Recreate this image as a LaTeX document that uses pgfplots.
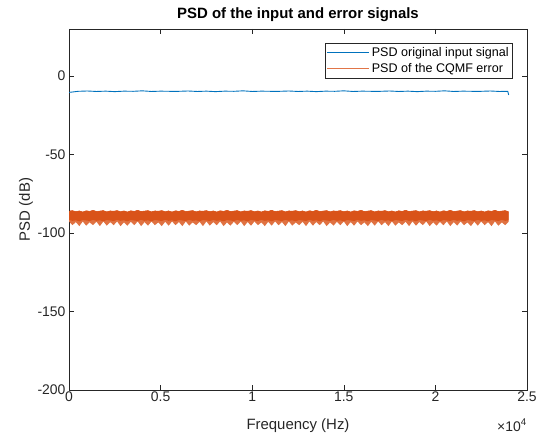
\documentclass[border=0pt]{standalone}
\usepackage{pgfplots}
\pgfplotsset{compat=1.18}
\usepackage{pgfplotstable}
\usepgfplotslibrary{fillbetween}
\usepackage{fontspec}
\setmainfont{Liberation Sans}
\definecolor{mblue}{RGB}{0,114,189}
\definecolor{morange}{RGB}{217,83,25}
\definecolor{axgray}{RGB}{38,38,38}

\pgfplotstableread{
x up core lo
0 -86.1 -91.6 -92.6
187.5 -85.7 -92.2 -95.0
375 -86.4 -91.9 -93.0
562.5 -85.9 -92.5 -95.6
750 -86.6 -91.7 -92.6
937.5 -85.8 -92.0 -95.3
1125 -86.2 -92.3 -93.2
1312.5 -85.5 -91.6 -95.0
1500 -86.3 -92.2 -92.8
1687.5 -86.0 -91.9 -95.6
1875 -85.7 -92.5 -92.6
2062.5 -86.5 -91.7 -95.3
2250 -85.9 -92.0 -93.0
2437.5 -86.1 -92.3 -95.0
2625 -85.7 -91.6 -92.6
2812.5 -86.4 -92.2 -95.6
3000 -85.9 -91.9 -93.2
3187.5 -86.6 -92.5 -95.3
3375 -85.8 -91.7 -92.8
3562.5 -86.2 -92.0 -95.0
3750 -85.5 -92.3 -92.6
3937.5 -86.3 -91.6 -95.6
4125 -86.0 -92.2 -93.0
4312.5 -85.7 -91.9 -95.3
4500 -86.5 -92.5 -92.6
4687.5 -85.9 -91.7 -95.0
4875 -86.1 -92.0 -93.2
5062.5 -85.7 -92.3 -95.6
5250 -86.4 -91.6 -92.8
5437.5 -85.9 -92.2 -95.3
5625 -86.6 -91.9 -92.6
5812.5 -85.8 -92.5 -95.0
6000 -86.2 -91.7 -93.0
6187.5 -85.5 -92.0 -95.6
6375 -86.3 -92.3 -92.6
6562.5 -86.0 -91.6 -95.3
6750 -85.7 -92.2 -93.2
6937.5 -86.5 -91.9 -95.0
7125 -85.9 -92.5 -92.8
7312.5 -86.1 -91.7 -95.6
7500 -85.7 -92.0 -92.6
7687.5 -86.4 -92.3 -95.3
7875 -85.9 -91.6 -93.0
8062.5 -86.6 -92.2 -95.0
8250 -85.8 -91.9 -92.6
8437.5 -86.2 -92.5 -95.6
8625 -85.5 -91.7 -93.2
8812.5 -86.3 -92.0 -95.3
9000 -86.0 -92.3 -92.8
9187.5 -85.7 -91.6 -95.0
9375 -86.5 -92.2 -92.6
9562.5 -85.9 -91.9 -95.6
9750 -86.1 -92.5 -93.0
9937.5 -85.7 -91.7 -95.3
10125 -86.4 -92.0 -92.6
10312.5 -85.9 -92.3 -95.0
10500 -86.6 -91.6 -93.2
10687.5 -85.8 -92.2 -95.6
10875 -86.2 -91.9 -92.8
11062.5 -85.5 -92.5 -95.3
11250 -86.3 -91.7 -92.6
11437.5 -86.0 -92.0 -95.0
11625 -85.7 -92.3 -93.0
11812.5 -86.5 -91.6 -95.6
12000 -85.9 -92.2 -92.6
12187.5 -86.1 -91.9 -95.3
12375 -85.7 -92.5 -93.2
12562.5 -86.4 -91.7 -95.0
12750 -85.9 -92.0 -92.8
12937.5 -86.6 -92.3 -95.6
13125 -85.8 -91.6 -92.6
13312.5 -86.2 -92.2 -95.3
13500 -85.5 -91.9 -93.0
13687.5 -86.3 -92.5 -95.0
13875 -86.0 -91.7 -92.6
14062.5 -85.7 -92.0 -95.6
14250 -86.5 -92.3 -93.2
14437.5 -85.9 -91.6 -95.3
14625 -86.1 -92.2 -92.8
14812.5 -85.7 -91.9 -95.0
15000 -86.4 -92.5 -92.6
15187.5 -85.9 -91.7 -95.6
15375 -86.6 -92.0 -93.0
15562.5 -85.8 -92.3 -95.3
15750 -86.2 -91.6 -92.6
15937.5 -85.5 -92.2 -95.0
16125 -86.3 -91.9 -93.2
16312.5 -86.0 -92.5 -95.6
16500 -85.7 -91.7 -92.8
16687.5 -86.5 -92.0 -95.3
16875 -85.9 -92.3 -92.6
17062.5 -86.1 -91.6 -95.0
17250 -85.7 -92.2 -93.0
17437.5 -86.4 -91.9 -95.6
17625 -85.9 -92.5 -92.6
17812.5 -86.6 -91.7 -95.3
18000 -85.8 -92.0 -93.2
18187.5 -86.2 -92.3 -95.0
18375 -85.5 -91.6 -92.8
18562.5 -86.3 -92.2 -95.6
18750 -86.0 -91.9 -92.6
18937.5 -85.7 -92.5 -95.3
19125 -86.5 -91.7 -93.0
19312.5 -85.9 -92.0 -95.0
19500 -86.1 -92.3 -92.6
19687.5 -85.7 -91.6 -95.6
19875 -86.4 -92.2 -93.2
20062.5 -85.9 -91.9 -95.3
20250 -86.6 -92.5 -92.8
20437.5 -85.8 -91.7 -95.0
20625 -86.2 -92.0 -92.6
20812.5 -85.5 -92.3 -95.6
21000 -86.3 -91.6 -93.0
21187.5 -86.0 -92.2 -95.3
21375 -85.7 -91.9 -92.6
21562.5 -86.5 -92.5 -95.0
21750 -85.9 -91.7 -93.2
21937.5 -86.1 -92.0 -95.6
22125 -85.7 -92.3 -92.8
22312.5 -86.4 -91.6 -95.3
22500 -85.9 -92.2 -92.6
22687.5 -86.6 -91.9 -95.0
22875 -85.8 -92.5 -93.0
23062.5 -86.2 -91.7 -95.6
23250 -85.5 -92.0 -92.6
23437.5 -86.3 -92.3 -95.3
23625 -86.0 -91.6 -93.2
23812.5 -85.7 -92.2 -95.0
24000 -86.5 -91.9 -92.8
}\errtab

\pgfplotstableread{
x y
0 -10.4
500 -9.7
1000 -9.5
1500 -9.8
2000 -9.6
2500 -9.9
3000 -9.6
3500 -9.7
4000 -9.4
4500 -9.8
5000 -9.6
5500 -9.7
6000 -9.7
6500 -9.5
7000 -9.8
7500 -9.6
8000 -9.9
8500 -9.6
9000 -9.7
9500 -9.4
10000 -9.8
10500 -9.6
11000 -9.7
11500 -9.7
12000 -9.5
12500 -9.8
13000 -9.6
13500 -9.9
14000 -9.6
14500 -9.7
15000 -9.4
15500 -9.8
16000 -9.6
16500 -9.7
17000 -9.7
17500 -9.5
18000 -9.8
18500 -9.6
19000 -9.9
19500 -9.6
20000 -9.7
20500 -9.4
21000 -9.8
21500 -9.6
22000 -9.7
22500 -9.7
23000 -9.5
23500 -9.8
23950 -9.7
24000 -12.0
}\inptab

\begin{document}
\begin{tikzpicture}
\begin{axis}[
  scale only axis,
  width=458bp, height=361bp,
  clip mode=individual,
  xmin=0, xmax=25000, ymin=-200, ymax=30,
  xtick={0,5000,10000,15000,20000,25000},
  xticklabels={0,0.5,1,1.5,2,2.5},
  ytick={-200,-150,-100,-50,0},
  scaled x ticks=false,
  tick align=inside,
  major tick length=5bp,
  axis line style={axgray, line width=0.5pt},
  every tick/.style={axgray, line width=0.5pt},
  tick label style={font=\fontsize{14}{16}\selectfont, text=axgray},
  xticklabel style={yshift=1.5bp},
  /pgf/number format/assume math mode=true,
  xlabel={Frequency (Hz)},
  ylabel={PSD (dB)},
  label style={font=\fontsize{15}{17}\selectfont, text=axgray},
  xlabel style={at={(axis description cs:0.5,-0.1108)}, anchor=base},
  ylabel style={at={(axis description cs:-0.0852,0.5)}, anchor=base, rotate=0},
  title={\textbf{PSD of the input and error signals}},
  title style={at={(0.5,1)}, anchor=base, yshift=5bp, font=\fontsize{15}{17}\selectfont},
  legend style={at={(rel axis cs:0.969,0.961)}, anchor=north east,
    draw=axgray, font=\fontsize{12.6}{14}\selectfont,
    inner xsep=2bp, inner ysep=2bp, row sep=1.5bp},
  legend cell align=left,
]
\addplot[mblue, line width=0.9pt,
  legend image code/.code={\draw[mblue, line width=0.8pt] (0bp,0bp) -- (42bp,0bp);}]
  table[x=x,y=y] {\inptab};
\addlegendentry{PSD original input signal}
\addplot[name path=up, morange, line width=0.5pt,
  legend image code/.code={\draw[morange!80!white, line width=0.6pt] (0bp,0bp) -- (42bp,0bp);}]
  table[x=x,y=up] {\errtab};
\addlegendentry{PSD of the CQMF error}
\addplot[name path=lo, draw=none, forget plot] table[x=x,y=lo] {\errtab};
\addplot[name path=core, draw=none, forget plot] table[x=x,y=core] {\errtab};
\addplot[fill=morange!82!white, draw=none, forget plot] fill between[of=up and lo];
\addplot[fill=morange, draw=none, forget plot] fill between[of=up and core];
\coordinate (ll) at (rel axis cs:0,0);
\coordinate (ur) at (rel axis cs:1,1);
\node[anchor=base east, font=\fontsize{14}{16}\selectfont, text=axgray, inner sep=0pt] at (axis description cs:1,-0.1136) {×10\textsuperscript{4}};
\end{axis}
\pgfresetboundingbox
\path[use as bounding box] ([xshift=-69bp,yshift=-50bp]ll) rectangle ([xshift=12bp,yshift=29bp]ur);
\end{tikzpicture}
\end{document}
